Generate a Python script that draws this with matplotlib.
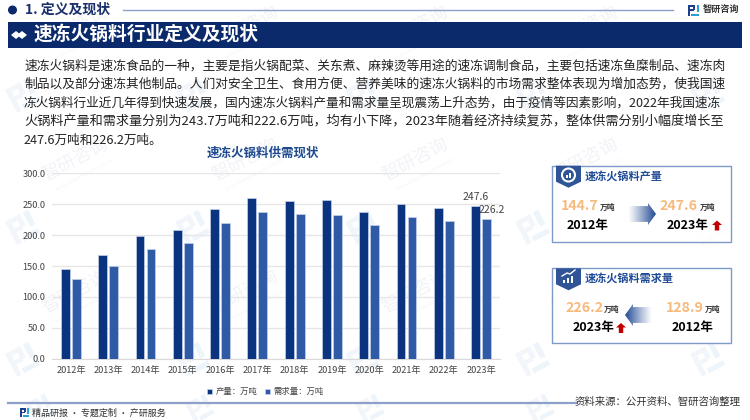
import matplotlib
matplotlib.use("Agg")
import matplotlib.pyplot as plt
import numpy as np
from matplotlib.patches import Rectangle, Polygon, Circle
from matplotlib.transforms import Affine2D

plt.rcParams['font.family'] = ['Noto Sans CJK SC', 'DejaVu Sans']

years = ["2012年", "2013年", "2014年", "2015年", "2016年", "2017年",
         "2018年", "2019年", "2020年", "2021年", "2022年", "2023年"]
output = [144.7, 167.8, 198.0, 208.0, 243.0, 260.0, 254.7, 256.0, 238.0, 251.0, 243.7, 247.6]
demand = [128.9, 149.5, 178.0, 188.0, 220.0, 238.0, 233.6, 232.0, 216.0, 229.0, 222.6, 226.2]
y_ticks = [0, 50, 100, 150, 200, 250, 300]

body_lines = [
    "速冻火锅料是速冻食品的一种，主要是指火锅配菜、关东煮、麻辣烫等用途的速冻调制食品，主要包括速冻鱼糜制品、速冻肉",
    "制品以及部分速冻其他制品。人们对安全卫生、食用方便、营养美味的速冻火锅料的市场需求整体表现为增加态势，使我国速",
    "冻火锅料行业近几年得到快速发展，国内速冻火锅料产量和需求量呈现震荡上升态势，由于疫情等因素影响，2022年我国速冻",
    "火锅料产量和需求量分别为243.7万吨和222.6万吨，均有小下降，2023年随着经济持续复苏，整体供需分别小幅度增长至",
    "247.6万吨和226.2万吨。",
]

NAVY = "#0b2a6b"
DARK = "#0b3480"
MID = "#2e5aa6"
ORANGE = "#f6bb7c"
W, H = 750, 420

fig = plt.figure(figsize=(7.5, 4.2), dpi=100)

# background layer, coordinates are pixels
bg = fig.add_axes([0, 0, 1, 1])
bg.set_xlim(0, W)
bg.set_ylim(H, 0)
bg.axis("off")


def logo(ax, x, y, s, c1, c2, rot=0, z=1):
    # small square company mark
    tr = Affine2D().rotate_deg_around(x, y, rot) + ax.transData
    blocks = [(0, 0, 0.2, 1, c1), (0.2, 0, 0.45, 0.18, c1), (0.45, 0.18, 0.2, 0.3, c1),
              (0.2, 0.4, 0.3, 0.16, c1), (0.78, 0, 0.22, 0.62, c2), (0.3, 0.8, 0.7, 0.2, c2)]
    for bx, by, bw, bh, c in blocks:
        ax.add_patch(Rectangle((x + bx * s, y + by * s), bw * s, bh * s, color=c, lw=0, zorder=z, transform=tr))


# watermark
for wy in [28, 160, 292]:
    for wx in [75, 245, 415, 585]:
        bg.text(wx, wy, "智研咨询", fontsize=13, color="#f1f3f7", rotation=28, ha="center", va="center", zorder=1)
        bg.text(wx + 10, wy + 15, "INTELLIGENCE RESEARCH GROUP", fontsize=3, color="#f2f4f8", rotation=28,
                ha="center", va="center", zorder=1)
for wy in [90, 222, 354]:
    for wx in [5, 175, 345, 515, 690]:
        logo(bg, wx, wy, 26, "#f2f6fa", "#eef5fa", rot=-28)
for wy in [404]:
    for wx in [25, 185, 355, 525]:
        logo(bg, wx, wy, 22, "#f2f6fa", "#eef5fa", rot=-28)

# header
bg.add_patch(Circle((12.5, 10), 3.8, color=NAVY, zorder=3))
bg.text(25, 10, "1. 定义及现状", fontsize=10, fontweight="bold", color="#1a2f6b", va="center", zorder=3)
bg.plot([123, 673], [9.5, 9.5], color="#8fa0c8", lw=1, zorder=3)
logo(bg, 688, 5, 11, "#1d3f8f", "#2a9fd8", z=3)
bg.text(703, 9, "智研咨询", fontsize=6.6, fontweight="bold", color="#333333", va="center", zorder=3)

# banner
bg.add_patch(Rectangle((8, 22), 734, 26, color=NAVY, lw=0, zorder=3))
for dx, ds in [(16, 5), (22, 5)]:
    bg.add_patch(Polygon([(dx - ds, 35), (dx, 31), (dx + ds, 35), (dx, 39)], color="white", lw=0, zorder=4))
bg.text(33.5, 34.5, "速冻火锅料行业定义及现状", fontsize=13.5, fontweight="bold", color="white", va="center", zorder=4)

# body text, lines are justified so each one gets fitted to the column
renderer = fig.canvas.get_renderer()
for i, (line, ly) in enumerate(zip(body_lines, [65.7, 84.3, 103, 121.7, 140])):
    t = bg.text(24, ly, line, fontsize=9.1, color="#222222", va="center", zorder=3)
    if i < 4:
        wid = t.get_window_extent(renderer).width
        t.set_fontsize(9.1 * 700 / wid)

# chart
ax = fig.add_axes([52.2 / W, 1 - 358.7 / H, 447.6 / W, 185.4 / H])
ax.patch.set_alpha(0)
pos = np.arange(len(years))
bar_w = 0.235
b1 = ax.bar(pos - 0.147, output, bar_w, color=DARK, edgecolor="#c3d0ea", linewidth=0.5, label="产量：万吨", zorder=3)
b2 = ax.bar(pos + 0.147, demand, bar_w, color=MID, edgecolor="#c3d0ea", linewidth=0.5, label="需求量：万吨", zorder=3)
ax.set_xlim(-0.5, len(years) - 0.5)
ax.set_ylim(0, 300)
ax.set_xticks(pos)
ax.set_xticklabels(years)
ax.set_yticks(y_ticks)
ax.set_yticklabels([f"{v:.1f}" for v in y_ticks])
ax.tick_params(length=0, labelsize=6.6, labelcolor="#444444", pad=5)
ax.grid(axis="y", color="#e6e6e6", lw=1, zorder=0)
for name, s in ax.spines.items():
    s.set_visible(name == "bottom")
ax.spines["bottom"].set_color("#d9d9d9")
ax.text(pos[-1] - 0.147, output[-1] + 6, f"{output[-1]}", fontsize=7.5, color="#444444", ha="center", va="bottom")
ax.text(pos[-1] + 0.28, demand[-1] + 6, f"{demand[-1]}", fontsize=7.5, color="#444444", ha="center", va="bottom")
ax.legend(handles=[b1, b2], loc="center", bbox_to_anchor=(0.4765, -0.178), ncol=2, frameon=False,
          fontsize=6, labelcolor="#444444", handlelength=0.6, handleheight=0.6, handletextpad=0.4, columnspacing=0.9,
          borderpad=0)
bg.text(263, 153, "速冻火锅料供需现状", fontsize=9, fontweight="bold", color="#1f4a8f", ha="center", va="center", zorder=3)


def grad_arrow(x0, x1, yc, half, head, c=(0.13, 0.29, 0.58)):
    # arrow fading out at its tail, x0 is the tail
    d = 1 if x1 > x0 else -1
    neck = x1 - d * head
    pts = [(x0, yc - half * 0.72), (neck, yc - half * 0.72), (neck, yc - half), (x1, yc),
           (neck, yc + half), (neck, yc + half * 0.72), (x0, yc + half * 0.72)]
    g = np.zeros((2, 64, 4))
    g[..., 0], g[..., 1], g[..., 2] = c
    fade = np.linspace(0, 1, 64) ** 1.1
    g[..., 3] = fade if d > 0 else fade[::-1]
    im = bg.imshow(g, extent=[min(x0, x1), max(x0, x1), yc + half, yc - half], aspect="auto", zorder=4)
    clip = Polygon(pts, transform=bg.transData, fc="none", ec="none")
    bg.add_patch(clip)
    im.set_clip_path(clip)


def up_arrow(x, y, s=10):
    pts = [(x, y + s * 0.45), (x + s * 0.5, y), (x + s, y + s * 0.45), (x + s * 0.72, y + s * 0.45),
           (x + s * 0.72, y + s), (x + s * 0.28, y + s), (x + s * 0.28, y + s * 0.45)]
    bg.add_patch(Polygon(pts, color="#c00000", lw=0, zorder=4))


def card(y0, y1, title, title_y):
    bg.add_patch(Rectangle((552.3, y0), 178.7, y1 - y0, fc="white", ec="#6f8fc4", lw=1, zorder=2, alpha=0.9))
    bg.add_patch(Polygon([(556, y0), (581, y0), (581, y0 + 16), (568.5, y0 + 22), (556, y0 + 16)],
                         color="#2f5597", lw=0, zorder=3))
    bg.text(585, title_y, title, fontsize=8, fontweight="bold", color="#1f4a96", va="center", zorder=3)


def stat(x, y, value, unit_x):
    bg.text(x, y, value, fontsize=10.2, fontweight="bold", color=ORANGE, va="center", zorder=4)
    bg.text(unit_x, y + 1.5, "万吨", fontsize=5.6, fontweight="bold", color="#333333", va="center", zorder=4)


# output card
card(165.7, 241.7, "速冻火锅料产量", 175.7)
bg.add_patch(Circle((568.5, 175), 6.5, fc="none", ec="white", lw=1.5, zorder=4))
bg.add_patch(Rectangle((565.5, 175), 2, 3, color="white", lw=0, zorder=4))
bg.add_patch(Rectangle((569, 172.5), 2, 5.5, color="white", lw=0, zorder=4))
stat(560.7, 205.5, f"{output[0]}", 599.5)
bg.text(566.7, 225, years[0], fontsize=9, fontweight="bold", color="black", va="center", zorder=4)
grad_arrow(628, 656, 214, 11, 8)
stat(659, 205.5, f"{output[-1]}", 700)
bg.text(667, 225, years[-1], fontsize=9, fontweight="bold", color="black", va="center", zorder=4)
up_arrow(712, 220.5)

# demand card
card(268.3, 343.3, "速冻火锅料需求量", 278)
for k, bh in enumerate([3, 5, 7]):
    bg.add_patch(Rectangle((562.5 + k * 4, 283 - bh), 2.8, bh, color="white", lw=0, zorder=4))
bg.plot([562, 567, 570, 575], [276, 273, 274, 270], color="white", lw=1, zorder=4)
stat(565, 308, f"{demand[-1]}", 604)
bg.text(573, 327, years[-1], fontsize=9, fontweight="bold", color="black", va="center", zorder=4)
up_arrow(616, 323)
grad_arrow(652, 625, 315, 11, 8)
stat(666, 308, f"{demand[0]}", 704.5)
bg.text(671.5, 327, years[0], fontsize=9, fontweight="bold", color="black", va="center", zorder=4)

# footer
bg.plot([8, 577], [403, 403], color="#8fa0c8", lw=1.6, zorder=3)
logo(bg, 20, 408, 9, "#1d3f8f", "#2a9fd8", z=3)
bg.text(32, 413.5, "精品研报 · 专题定制 · 产研服务", fontsize=6.5, color="#333333", va="center", zorder=3)
bg.text(575, 402, "资料来源：公开资料、智研咨询整理", fontsize=7.5, color="#333333", va="center", zorder=3)

bg.set_xlim(0, W)
bg.set_ylim(H, 0)
fig.savefig("out.png", dpi=100)
